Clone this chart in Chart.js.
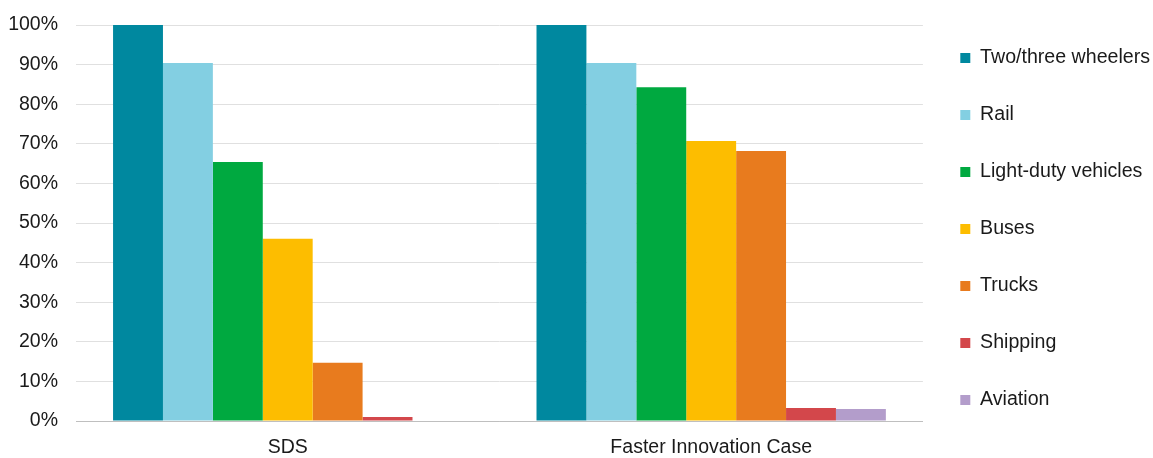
<!DOCTYPE html>
<html>
<head>
<meta charset="utf-8">
<script src="https://cdn.jsdelivr.net/npm/chart.js@4.4.1/dist/chart.umd.min.js"></script>
<style>
  html, body { margin: 0; padding: 0; background: #fff; }
  #wrap { width: 1153px; height: 458px; position: relative; }
</style>
</head>
<body>
<div id="wrap"><canvas id="chart"></canvas></div>
<script>
// Categorias e séries (valores em %)
const categories = ['SDS', 'Faster Innovation Case'];
const seriesNames = ['Two/three wheelers', 'Rail', 'Light-duty vehicles', 'Buses', 'Trucks', 'Shipping', 'Aviation'];
const twoThreeWheelers = [100, 100];
const rail = [90.4, 90.4];
const lightDuty = [65.4, 84.3];
const buses = [46.0, 70.7];
const trucks = [14.7, 68.2];
const shipping = [1.0, 3.3];
const aviation = [0, 3.0];
const yTicks = [0, 10, 20, 30, 40, 50, 60, 70, 80, 90, 100];

const seriesColors = ['#00889f', '#83cfe2', '#00a940', '#fdbd00', '#e87b1e', '#d3474b', '#b39dcb'];
const seriesValues = [twoThreeWheelers, rail, lightDuty, buses, trucks, shipping, aviation];

const fontFamily = '"Liberation Sans", Arial, sans-serif';

new Chart(document.getElementById('chart').getContext('2d'), {
    type: 'bar',
    data: {
        labels: categories,
        datasets: seriesNames.map((name, i) => ({
            label: name,
            data: seriesValues[i],
            backgroundColor: seriesColors[i],
            borderWidth: 0,
            barPercentage: 1,
            categoryPercentage: 0.825
        }))
    },
    options: {
        responsive: true,
        maintainAspectRatio: false,
        animation: false,
        layout: { padding: { top: 0, right: -7, left: 8, bottom: 0 } },
        plugins: {
            tooltip: { enabled: false },
            legend: {
                position: 'right',
                labels: {
                    boxWidth: 10,
                    boxHeight: 10,
                    padding: 37.4,
                    color: '#1a1a1a',
                    font: { family: fontFamily, size: 19.6 }
                }
            }
        },
        scales: {
            x: {
                grid: { display: false, drawTicks: false },
                border: { display: true, color: '#bfbfbf', width: 1 },
                ticks: { padding: 15, color: '#1a1a1a', font: { family: fontFamily, size: 19.5 } },
                afterFit: (axis) => { axis.height = 37; }
            },
            y: {
                min: 0,
                max: 100,
                afterBuildTicks: (axis) => { axis.ticks = yTicks.map(v => ({ value: v })); },
                afterFit: (axis) => { axis.width = 68; axis.paddingTop = 25; },
                grid: {
                    drawTicks: false,
                    color: (ctx) => ctx.tick && ctx.tick.value === 0 ? '#bfbfbf' : '#e0e0e0',
                    lineWidth: 1
                },
                border: { display: false },
                ticks: {
                    padding: 18,
                    color: '#1a1a1a',
                    font: { family: fontFamily, size: 19.5 },
                    callback: (v) => v + '%'
                }
            }
        }
    }
});
</script>
</body>
</html>
